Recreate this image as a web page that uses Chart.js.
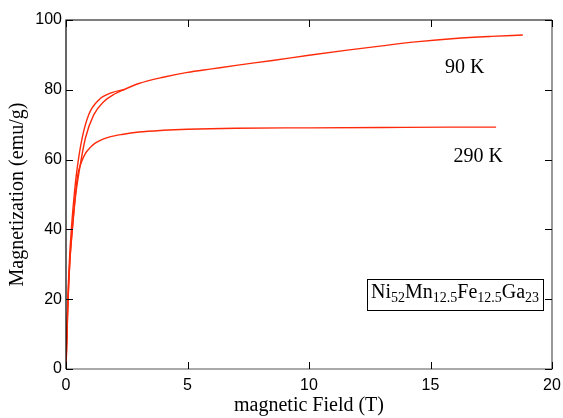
<!DOCTYPE html>
<html>
<head>
<meta charset="utf-8">
<script src="https://cdn.jsdelivr.net/npm/chart.js@4/dist/chart.umd.min.js"></script>
<style>
  html, body { margin: 0; padding: 0; background: #fff; }
  #wrap { width: 563px; height: 418px; }
</style>
</head>
<body>
<div id="wrap"><canvas id="grafico" width="563" height="418"></canvas></div>
<script>
// 90 K, rising branch
const campo90Sobe = [0, 0.08, 0.16, 0.26, 0.4, 0.55, 0.8, 1.14, 1.55, 2.0, 2.4, 3.0, 4.0, 5.0, 6.0, 7.0, 8.5, 10.0, 11.5, 13.0, 14.5, 16.0, 17.5, 18.8];
const mag90Sobe   = [0, 19, 31, 40, 50, 57, 66.2, 72.8, 76.6, 78.8, 80.1, 81.8, 83.6, 85.0, 86.0, 87.0, 88.4, 89.9, 91.3, 92.6, 93.8, 94.7, 95.3, 95.7];
// 90 K, returning branch (upper side of the loop)
const campo90Desce = [0, 0.07, 0.14, 0.23, 0.34, 0.45, 0.66, 0.93, 1.35, 1.89, 2.4];
const mag90Desce   = [1, 19, 31, 41, 50, 57, 66, 72.8, 77.1, 79.2, 80.1];
// 290 K
const campo290 = [0, 0.08, 0.16, 0.26, 0.36, 0.48, 0.62, 0.8, 1.0, 1.2, 1.5, 1.8, 2.3, 3.0, 4.0, 5.0, 7.0, 10.0, 13.0, 15.7, 17.7];
const mag290   = [0, 19, 31, 40, 48, 55.5, 59, 61.8, 63.5, 64.7, 65.8, 66.5, 67.2, 67.9, 68.4, 68.7, 69.0, 69.1, 69.2, 69.3, 69.3];

const ticksX = [0, 5, 10, 15, 20];
const ticksY = [0, 20, 40, 60, 80, 100];

function pontos(xs, ys) {
    return xs.map((x, i) => ({ x: x, y: ys[i] }));
}

const vermelho = '#ff2a0a';

// frame, inward ticks and annotations
const moldura = {
    id: 'moldura',
    afterDraw(chart) {
        const ctx = chart.ctx;
        const a = chart.chartArea;
        const sx = chart.scales.x, sy = chart.scales.y;
        ctx.save();
        ctx.lineWidth = 1.2;
        ctx.strokeStyle = '#000';
        ctx.beginPath();
        ctx.moveTo(a.left, a.bottom); ctx.lineTo(a.left, a.top); ctx.lineTo(a.right, a.top);
        ctx.stroke();
        ctx.strokeStyle = '#555';
        ctx.beginPath();
        ctx.moveTo(a.left, a.bottom); ctx.lineTo(a.right, a.bottom); ctx.lineTo(a.right, a.top);
        ctx.stroke();
        ctx.strokeStyle = '#000';
        ctx.lineWidth = 1;
        const t = 7;
        ticksX.forEach(v => {
            const px = Math.round(sx.getPixelForValue(v)) + 0.5;
            ctx.beginPath();
            ctx.moveTo(px, a.bottom); ctx.lineTo(px, a.bottom - t);
            ctx.moveTo(px, a.top); ctx.lineTo(px, a.top + t);
            ctx.stroke();
        });
        ticksY.forEach(v => {
            const py = Math.round(sy.getPixelForValue(v)) + 0.5;
            ctx.beginPath();
            ctx.moveTo(a.left, py); ctx.lineTo(a.left + t, py);
            ctx.moveTo(a.right, py); ctx.lineTo(a.right - t, py);
            ctx.stroke();
        });

        // temperature labels
        ctx.fillStyle = '#000';
        ctx.font = '20px "Liberation Serif"';
        ctx.textBaseline = 'alphabetic';
        ctx.textAlign = 'left';
        ctx.fillText('90 K', sx.getPixelForValue(15.6), sy.getPixelForValue(84.8));
        ctx.fillText('290 K', sx.getPixelForValue(15.95), sy.getPixelForValue(59.3));

        // composition box
        const partes = [['Ni', '52'], ['Mn', '12.5'], ['Fe', '12.5'], ['Ga', '23']];
        const fGrande = '20px "Liberation Serif"', fPeq = '14px "Liberation Serif"';
        const inicio = Math.round(sx.getPixelForValue(12.39));
        let x0 = inicio + 4;
        const base = sy.getPixelForValue(20.3);
        partes.forEach(p => {
            ctx.font = fGrande;
            ctx.fillText(p[0], x0, base);
            x0 += ctx.measureText(p[0]).width;
            ctx.font = fPeq;
            ctx.fillText(p[1], x0, base + 4);
            x0 += ctx.measureText(p[1]).width;
        });
        const topo = sy.getPixelForValue(25.8), fundo = sy.getPixelForValue(16.9);
        ctx.lineWidth = 1;
        ctx.strokeRect(inicio + 0.5, Math.round(topo) + 0.5, Math.round(x0 + 4 - inicio), Math.round(fundo - topo));
        ctx.restore();
    }
};

const ctx = document.getElementById('grafico').getContext('2d');

new Chart(ctx, {
    type: 'scatter',
    data: {
        datasets: [
            { label: '90 K sobe', data: pontos(campo90Sobe, mag90Sobe) },
            { label: '90 K desce', data: pontos(campo90Desce, mag90Desce) },
            { label: '290 K', data: pontos(campo290, mag290) }
        ].map(d => Object.assign(d, {
            showLine: true,
            borderColor: vermelho,
            borderWidth: 1.4,
            pointRadius: 0,
            cubicInterpolationMode: 'monotone',
            fill: false
        }))
    },
    options: {
        responsive: false,
        animation: false,
        layout: { padding: { top: 20, right: 11, left: 0, bottom: 0 } },
        plugins: { legend: { display: false }, tooltip: { enabled: false } },
        scales: {
            x: {
                type: 'linear',
                min: 0, max: 20,
                afterBuildTicks: s => { s.ticks = ticksX.map(v => ({ value: v })); },
                afterFit: s => { s.height = 49; s.paddingRight = 0; s.paddingLeft = 0; },
                grid: { display: false, drawTicks: false },
                border: { display: false },
                ticks: { color: '#000', padding: 7, font: { family: 'Liberation Sans', size: 16 } },
                title: {
                    display: true,
                    text: 'magnetic Field (T)',
                    color: '#000',
                    padding: { top: 10, bottom: 0 },
                    font: { family: 'Liberation Serif', size: 20 }
                }
            },
            y: {
                min: 0, max: 100,
                afterBuildTicks: s => { s.ticks = ticksY.map(v => ({ value: v })); },
                afterFit: s => { s.width = 66; s.paddingTop = 0; s.paddingBottom = 0; },
                grid: { display: false, drawTicks: false },
                border: { display: false },
                ticks: { color: '#000', padding: 4, font: { family: 'Liberation Sans', size: 16 } },
                title: {
                    display: true,
                    text: 'Magnetization (emu/g)',
                    color: '#000',
                    padding: { top: 6, bottom: 4 },
                    font: { family: 'Liberation Serif', size: 20 }
                }
            }
        }
    },
    plugins: [moldura]
});
</script>
</body>
</html>
